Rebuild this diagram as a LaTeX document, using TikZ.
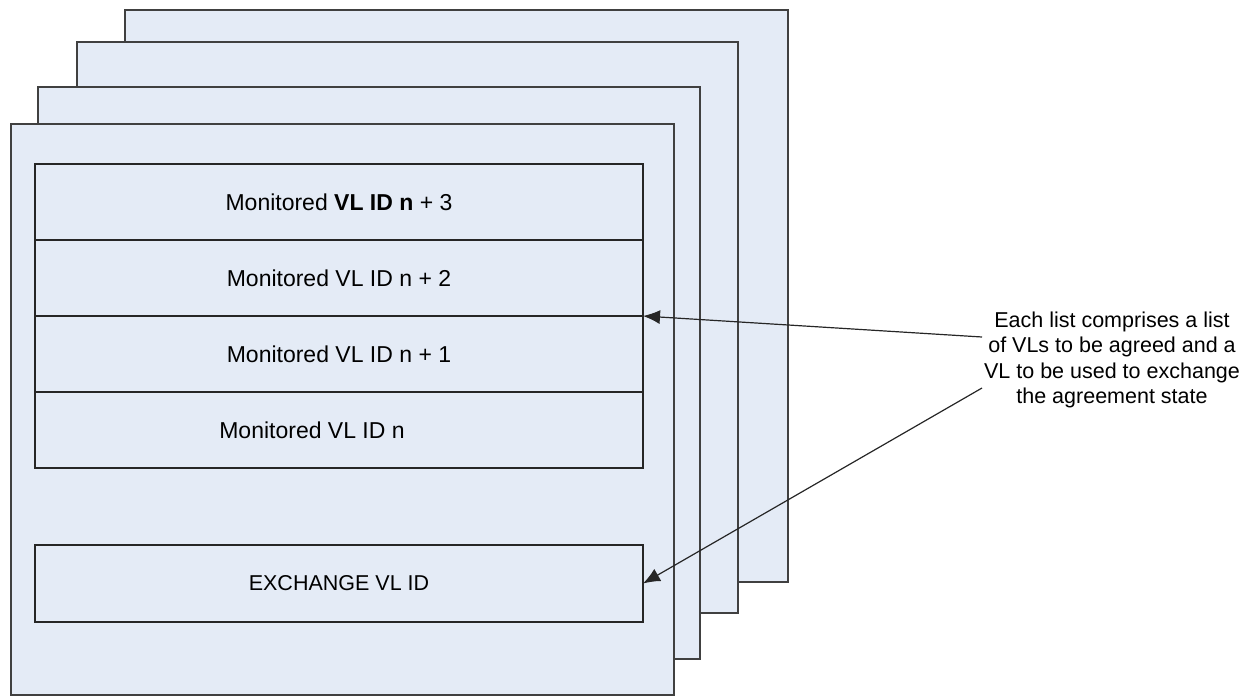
\documentclass[tikz,border=0pt]{standalone}
\usepackage{fontspec}
\setmainfont{Liberation Sans}
\usetikzlibrary{positioning,arrows.meta}

\begin{document}
\begin{tikzpicture}[x=1pt,y=-1pt,
    page/.style={draw=pageline,fill=pagefill,line width=1.4pt},
    row/.style={draw=black!85,fill=pagefill,line width=1.2pt,minimum width=608pt,minimum height=76pt,
      inner sep=0,outer sep=0,font=\fontsize{23}{27}\selectfont},
    pointer/.style={-{Latex[length=17pt,width=14pt]},line width=1.2pt,black!85}]
  % Define colors
  \definecolor{pagefill}{RGB}{228,235,246}
  \definecolor{pageline}{RGB}{64,64,64}

  % Fix canvas
  \useasboundingbox (0,0) rectangle (1246,696);

  % Draw stacked pages, back to front
  \foreach \l/\t/\r/\b in {125/10/788/582, 77/42/738/613, 38/87/700/659, 11/124/674/695}
    \draw[page] (\l,\t) rectangle (\r,\b);

  % Monitored list
  \node[row,anchor=north west] (mon3) at (35,164) {Monitored \textbf{VL ID n} + 3};
  \node[row,below=0pt of mon3] (mon2) {Monitored VL ID n + 2};
  \node[row,below=0pt of mon2] (mon1) {Monitored VL ID n + 1};
  \node[row,below=0pt of mon1] (mon0) {};
  \node[font=\fontsize{23}{27}\selectfont] (lbl0) at ([xshift=-27pt]mon0.center) {Monitored VL ID n};

  % Exchange VL
  \node[row,anchor=north west,minimum height=77pt,font=\fontsize{21.5}{25}\selectfont] (exch) at (35,545) {EXCHANGE VL ID};

  % Callout
  \node[align=center,font=\fontsize{21.5}{25.5}\selectfont] (note) at (1112,360)
    {Each list comprises a list\\of VLs to be agreed and a\\VL to be used to exchange\\the agreement state};
  \coordinate (from1) at (982,337);
  \coordinate (from2) at (982,388);
  \draw[pointer] (from1) -- (mon2.south east);
  \draw[pointer] (from2) -- (exch.east);

\end{tikzpicture}
\end{document}
